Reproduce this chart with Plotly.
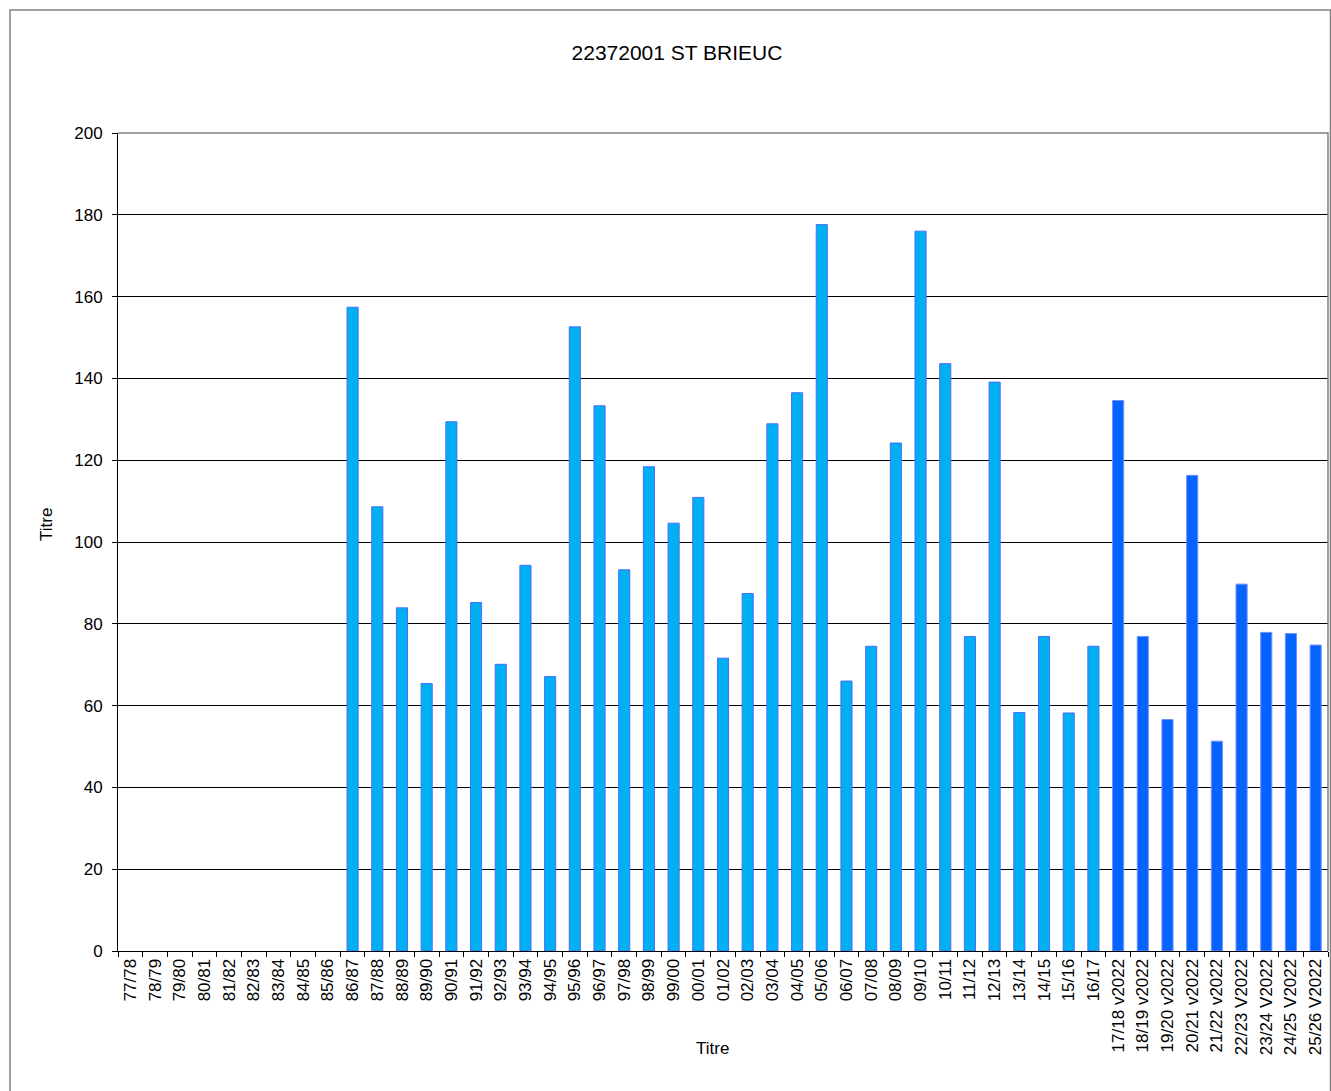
import plotly.graph_objects as go

categories = [
    "77/78", "78/79", "79/80", "80/81", "81/82", "82/83", "83/84", "84/85", "85/86",
    "86/87", "87/88", "88/89", "89/90", "90/91", "91/92", "92/93", "93/94", "94/95",
    "95/96", "96/97", "97/98", "98/99", "99/00", "00/01", "01/02", "02/03", "03/04",
    "04/05", "05/06", "06/07", "07/08", "08/09", "09/10", "10/11", "11/12", "12/13",
    "13/14", "14/15", "15/16", "16/17",
    "17/18 v2022", "18/19 v2022", "19/20 v2022", "20/21 v2022", "21/22 v2022",
    "22/23 V2022", "23/24 V2022", "24/25 V2022", "25/26 V2022",
]

values = [
    None, None, None, None, None, None, None, None, None,
    157.4, 108.6, 83.9, 65.4, 129.4, 85.2, 70.1, 94.3, 67.1,
    152.6, 133.3, 93.2, 118.4, 104.6, 110.9, 71.6, 87.4, 128.9,
    136.5, 177.6, 66.0, 74.5, 124.2, 176.0, 143.6, 76.9, 139.1,
    58.3, 76.9, 58.2, 74.5,
    134.6, 76.9, 56.6, 116.3, 51.3,
    89.7, 77.9, 77.6, 74.8,
]

title_text = "22372001 ST BRIEUC"
x_title = "Titre"
y_title = "Titre"
y_ticks = [0, 20, 40, 60, 80, 100, 120, 140, 160, 180, 200]

LIGHT = "#00B0F0"
DARK = "#0563FF"
bar_colors = [DARK if "2022" in c else LIGHT for c in categories]
line_colors = ["#6F8FFF" if "2022" in c else "#4A6CFF" for c in categories]

FONT = "Liberation Sans, Arial, sans-serif"

fig = go.Figure()
fig.add_trace(go.Bar(
    x=categories,
    y=values,
    marker=dict(color=bar_colors, line=dict(color=line_colors, width=1)),
    showlegend=False,
))

W, H = 1331, 1091
L, R, T, B = 118, 3, 133, 140
pw = W - L - R
ph = H - T - B

def px_x(x):
    return (x - L) / pw

def px_y(y):
    return (H - B - y) / ph

fig.update_layout(
    width=W, height=H,
    margin=dict(l=L, r=R, t=T, b=B),
    paper_bgcolor="white",
    plot_bgcolor="white",
    font=dict(family=FONT, size=17, color="black"),
    bargap=0.55,
    title=dict(
        text=title_text,
        x=677 / W, xref="container", xanchor="center",
        y=1 - 53 / H, yref="container", yanchor="middle",
        font=dict(family=FONT, size=21, color="black"),
    ),
    xaxis=dict(
        type="category",
        tickangle=-90,
        ticks="outside",
        tickson="boundaries",
        ticklen=5,
        tickcolor="black",
        tickwidth=1,
        showline=True,
        linecolor="black",
        linewidth=1,
        showgrid=False,
        tickfont=dict(family=FONT, size=17, color="black"),
    ),
    yaxis=dict(
        range=[0, 200],
        tickvals=y_ticks,
        ticks="outside",
        ticklen=5,
        tickcolor="black",
        tickwidth=1,
        showline=True,
        linecolor="black",
        linewidth=1,
        showgrid=True,
        gridcolor="black",
        gridwidth=1,
        zeroline=False,
        ticklabelstandoff=6,
        tickfont=dict(family=FONT, size=17, color="black"),
    ),
    annotations=[
        dict(text=x_title, xref="paper", yref="paper",
             x=px_x(712), y=px_y(1048), xanchor="center", yanchor="middle",
             showarrow=False, font=dict(family=FONT, size=17, color="black")),
        dict(text=y_title, xref="paper", yref="paper",
             x=px_x(46), y=px_y(525), xanchor="center", yanchor="middle",
             textangle=-90, showarrow=False,
             font=dict(family=FONT, size=17, color="black")),
    ],
    shapes=[
        dict(type="rect", xref="paper", yref="paper",
             x0=px_x(10), x1=px_x(1330.5), y0=px_y(1120), y1=px_y(10),
             line=dict(color="#808080", width=1.5), fillcolor="rgba(0,0,0,0)",
             layer="below"),
        dict(type="path", xref="paper", yref="paper",
             path="M 0,1 L 1,1 L 1,0",
             line=dict(color="#808080", width=1.5), layer="above"),
    ],
)

fig.write_html(
    "out.html",
    config=dict(displayModeBar=False),
    post_script="document.body.style.margin='0';document.body.style.padding='0';document.body.style.overflow='hidden';",
)
